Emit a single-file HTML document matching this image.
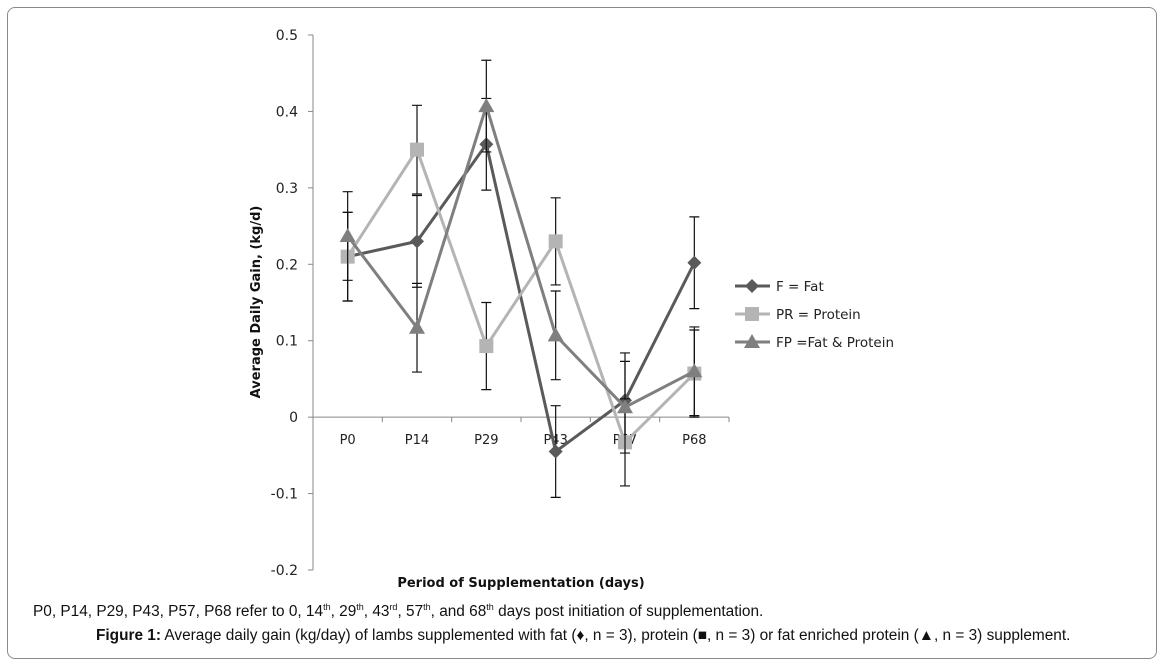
<!DOCTYPE html>
<html><head><meta charset="utf-8"><style>
body{margin:0;background:#fff;}
#wrap{position:relative;width:1165px;height:667px;font-family:"Liberation Sans",sans-serif;}
#frame{position:absolute;left:7px;top:7px;width:1150px;height:652px;border:1px solid #8a8a8a;border-radius:8px;box-sizing:border-box;}
.cap{position:absolute;font-size:15.4px;color:#111;white-space:nowrap;}
</style></head><body>
<div id="wrap">
<div id="frame"></div>
<svg id="chart" width="1165" height="667" style="position:absolute;left:0;top:0"></svg>
<div class="cap" style="left:33px;top:602px">P0, P14, P29, P43, P57, P68 refer to 0, 14<sup style="font-size:9px">th</sup>, 29<sup style="font-size:9px">th</sup>, 43<sup style="font-size:9px">rd</sup>, 57<sup style="font-size:9px">th</sup>, and 68<sup style="font-size:9px">th</sup> days post initiation of supplementation.</div>
<div class="cap" style="left:96px;top:627px"><b>Figure 1:</b> Average daily gain (kg/day) of lambs supplemented with fat (♦, n = 3), protein (■, n = 3) or fat enriched protein (▲, n = 3) supplement.</div>
</div>
<script>
const categories=["P0","P14","P29","P43","P57","P68"];
const fatVals=[0.21,0.23,0.357,-0.045,0.022,0.202];
const proteinVals=[0.21,0.35,0.093,0.23,-0.033,0.057];
const fpVals=[0.237,0.117,0.407,0.107,0.013,0.06];
const fatErr=[0.058,0.06,0.06,0.06,0.062,0.06];
const proteinErr=[0.058,0.058,0.057,0.057,0.057,0.057];
const fpErr=[0.058,0.058,0.06,0.058,0.06,0.058];
const yTicks=[0.5,0.4,0.3,0.2,0.1,0,-0.1,-0.2];
const yTickLabels=["0.5","0.4","0.3","0.2","0.1","0","-0.1","-0.2"];
const NS="http://www.w3.org/2000/svg";
const svg=document.getElementById('chart');
const x0=313,x1=729,yTop=35,yBot=570,vMax=0.5,vMin=-0.2;
const step=(x1-x0)/categories.length;
function X(i){return x0+step*(i+0.5);}
function Y(v){return yTop+(vMax-v)/(vMax-vMin)*(yBot-yTop);}
function mk(t,a,parent){const e=document.createElementNS(NS,t);for(const k in a)e.setAttribute(k,a[k]);(parent||svg).appendChild(e);return e;}
let ya=mk('line',{x1:x0,y1:yTop,x2:x0,y2:yBot,stroke:'#888','stroke-width':1});


yTicks.forEach((v,i)=>{
 let t=mk('line',{x1:x0-5,y1:Y(v),x2:x0,y2:Y(v),stroke:'#888'});
 
 
 let l=mk('text',{x:x0-15,y:Y(v)+5,'text-anchor':'end','font-size':14,fill:'#222','font-family':'DejaVu Sans, sans-serif'});
 l.textContent=yTickLabels[i];
 
 
});
let xa=mk('line',{x1:x0,y1:Y(0),x2:x1,y2:Y(0),stroke:'#888'});


for(let i=0;i<=categories.length;i++){
 let t=mk('line',{x1:x0+step*i,y1:Y(0),x2:x0+step*i,y2:Y(0)+5,stroke:'#888'});
 
 
}
categories.forEach((c,i)=>{
 let l=mk('text',{x:X(i),y:Y(0)+27,'text-anchor':'middle','font-size':13,fill:'#222','font-family':'DejaVu Sans, sans-serif'});
 l.textContent=c;
 
 
});
let yt=mk('text',{x:260,y:302,'text-anchor':'middle','font-size':13,'font-weight':'bold',fill:'#111',transform:'rotate(-90 260 302)','font-family':'DejaVu Sans, sans-serif'});
yt.textContent='Average Daily Gain, (kg/d)';


let xt=mk('text',{x:521,y:587,'text-anchor':'middle','font-size':13,'font-weight':'bold',fill:'#111','font-family':'DejaVu Sans, sans-serif'});
xt.textContent='Period of Supplementation (days)';


function marker(type,cx,cy,color,parent){
 if(type==='d')return mk('polygon',{points:`${cx},${cy-7} ${cx+7},${cy} ${cx},${cy+7} ${cx-7},${cy}`,fill:color},parent);
 if(type==='s')return mk('rect',{x:cx-7,y:cy-7,width:14,height:14,fill:color},parent);
 return mk('polygon',{points:`${cx},${cy-8} ${cx+8},${cy+6} ${cx-8},${cy+6}`,fill:color},parent);
}
const series=[
 {name:'fat',vals:fatVals,err:fatErr,color:'#5a5a5a',m:'d',label:'F = Fat'},
 {name:'protein',vals:proteinVals,err:proteinErr,color:'#b4b4b4',m:'s',label:'PR = Protein'},
 {name:'fat-protein',vals:fpVals,err:fpErr,color:'#7f7f7f',m:'t',label:'FP =Fat & Protein'}
];
series.forEach(s=>{
 const g=mk('g',{});
 
 
 s.vals.forEach((v,i)=>{
  const e=mk('path',{d:`M${X(i)},${Y(v+s.err[i])}V${Y(v-s.err[i])}M${X(i)-5},${Y(v+s.err[i])}h10M${X(i)-5},${Y(v-s.err[i])}h10`,stroke:'#111','stroke-width':1.2,fill:'none'},g);
  
  
 });
 const pl=mk('polyline',{points:s.vals.map((v,i)=>X(i)+','+Y(v)).join(' '),stroke:s.color,'stroke-width':3,fill:'none'},g);
 
 
 s.vals.forEach((v,i)=>{
  const m=marker(s.m,X(i),Y(v),s.color,g);
  
  
 });
});
series.forEach((s,k)=>{
 const ly=286+k*28;
 const g=mk('g',{});
 
 
 mk('line',{x1:735,y1:ly,x2:770,y2:ly,stroke:s.color,'stroke-width':3},g);
 marker(s.m,752,ly,s.color,g);
 const t=mk('text',{x:776,y:ly+5,'font-size':13.5,fill:'#222','font-family':'DejaVu Sans, sans-serif'},g);
 t.textContent=s.label;
});
</script>
</body></html>
